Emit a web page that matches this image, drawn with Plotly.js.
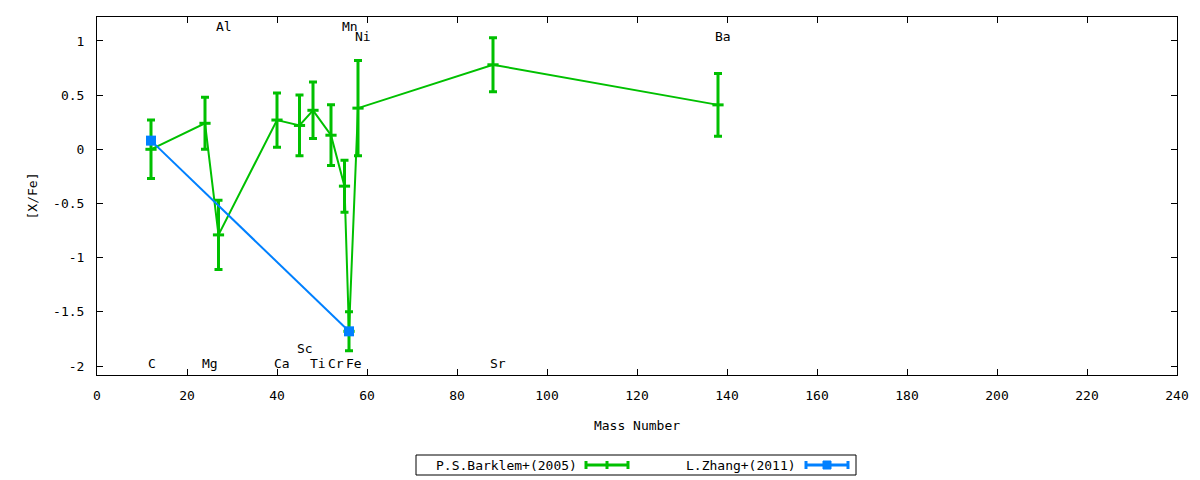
<!DOCTYPE html>
<html>
<head>
<meta charset="utf-8">
<script src="https://cdn.plot.ly/plotly-3.0.1.min.js"></script>
<style>html,body{margin:0;padding:0;background:#fff;}#chart{width:1200px;height:480px;}</style>
</head>
<body>
<div id="chart"></div>
<script>
// ---- data ----
const elements = ['C','Mg','Al','Ca','Sc','Ti','Cr','Mn','Fe','Ni','Sr','Ba'];
const massNumbers = [12,24,27,40,45,48,52,55,56,58,88,138];
const barklemValues = [0.00,0.24,-0.79,0.27,0.22,0.36,0.13,-0.34,-1.68,0.38,0.78,0.41];
const barklemErrors = [0.27,0.24,0.32,0.25,0.28,0.26,0.28,0.24,0.18,0.44,0.25,0.29];
const zhangMass = [12,56];
const zhangValues = [0.08,-1.68];
const seriesNames = ['P.S.Barklem+(2005)','L.Zhang+(2011)'];
const xTicks = [0,20,40,60,80,100,120,140,160,180,200,220,240];
const yTicks = [1,0.5,0,-0.5,-1,-1.5,-2];
const yTickLabels = ['1','0.5','0','-0.5','-1','-1.5','-2'];

const GREEN = '#00c000';
const BLUE = '#0080ff';
const FONT = 'DejaVu Sans Mono, monospace';

const traces = [
  {
    x: massNumbers, y: barklemValues, name: seriesNames[0], type: 'scatter', mode: 'lines+markers',
    line: {color: GREEN, width: 2},
    marker: {symbol: 'line-ew', size: 8, color: GREEN, line: {color: GREEN, width: 3}},
    error_y: {type: 'data', array: barklemErrors, visible: true, color: GREEN, thickness: 3, width: 4},
    showlegend: false, hoverinfo: 'x+y'
  },
  {
    x: zhangMass, y: zhangValues, name: seriesNames[1], type: 'scatter', mode: 'lines+markers',
    line: {color: BLUE, width: 2},
    marker: {symbol: 'square', size: 10, color: BLUE},
    showlegend: false, hoverinfo: 'x+y'
  }
];

// element labels (row placement rule in code)
function labelY(el) {
  if (el === 'Al' || el === 'Mn') return 1.135;
  if (el === 'Ni' || el === 'Ba') return 1.043;
  if (el === 'Sc') return -1.84;
  return -1.975;
}
const annotations = elements.map((el, i) => ({
  x: massNumbers[i], y: labelY(el), xref: 'x', yref: 'y', text: el,
  showarrow: false, xanchor: 'left', yanchor: 'middle', xshift: -5,
  font: {family: FONT, size: 13, color: '#000'}
}));

// custom gnuplot-style legend (paper coordinates)
const L = 97, W = 1080, B = 375, H = 358;
const px = v => (v - L) / W;
const py = v => (B - v) / H;
const legY = py(465);
annotations.push(
  {x: px(579), y: legY, xref: 'paper', yref: 'paper', text: seriesNames[0], showarrow: false,
   xanchor: 'right', yanchor: 'middle', font: {family: FONT, size: 13, color: '#000'}},
  {x: px(798), y: legY, xref: 'paper', yref: 'paper', text: seriesNames[1], showarrow: false,
   xanchor: 'right', yanchor: 'middle', font: {family: FONT, size: 13, color: '#000'}}
);
const capH = 4 / H;
const shapes = [
  {type: 'rect', xref: 'paper', yref: 'paper', x0: px(416), x1: px(856), y0: py(475), y1: py(455),
   line: {color: '#000', width: 1}, fillcolor: 'rgba(0,0,0,0)'},
  // green sample
  {type: 'line', xref: 'paper', yref: 'paper', x0: px(586), x1: px(628), y0: legY, y1: legY, line: {color: GREEN, width: 3}},
  {type: 'line', xref: 'paper', yref: 'paper', x0: px(586), x1: px(586), y0: legY - capH, y1: legY + capH, line: {color: GREEN, width: 3}},
  {type: 'line', xref: 'paper', yref: 'paper', x0: px(628), x1: px(628), y0: legY - capH, y1: legY + capH, line: {color: GREEN, width: 3}},
  {type: 'line', xref: 'paper', yref: 'paper', x0: px(607), x1: px(607), y0: legY - capH, y1: legY + capH, line: {color: GREEN, width: 3}},
  // blue sample
  {type: 'line', xref: 'paper', yref: 'paper', x0: px(806), x1: px(848), y0: legY, y1: legY, line: {color: BLUE, width: 3}},
  {type: 'line', xref: 'paper', yref: 'paper', x0: px(806), x1: px(806), y0: legY - capH, y1: legY + capH, line: {color: BLUE, width: 3}},
  {type: 'line', xref: 'paper', yref: 'paper', x0: px(848), x1: px(848), y0: legY - capH, y1: legY + capH, line: {color: BLUE, width: 3}},
  {type: 'rect', xref: 'paper', yref: 'paper', x0: px(823), x1: px(831), y0: legY - capH, y1: legY + capH,
   line: {color: BLUE, width: 1}, fillcolor: BLUE}
];

const layout = {
  width: 1200, height: 480,
  margin: {l: 97, r: 23, t: 17, b: 105},
  paper_bgcolor: '#fff', plot_bgcolor: '#fff',
  font: {family: FONT, size: 13, color: '#000'},
  showlegend: false,
  xaxis: {
    range: [0, 240], tickvals: xTicks, ticktext: xTicks.map(String),
    ticks: 'inside', ticklen: 6, tickcolor: '#000', tickwidth: 1,
    showline: true, linecolor: '#000', linewidth: 1, mirror: 'ticks',
    showgrid: false, zeroline: false, ticklabelstandoff: 8,
    title: {text: 'Mass Number', font: {family: FONT, size: 13}, standoff: 19}
  },
  yaxis: {
    range: [-2.083, 1.221], tickvals: yTicks, ticktext: yTickLabels,
    ticks: 'inside', ticklen: 6, tickcolor: '#000', tickwidth: 1,
    showline: true, linecolor: '#000', linewidth: 1, mirror: 'ticks',
    showgrid: false, zeroline: false, ticklabelstandoff: 9,
    title: {text: '[X/Fe]', font: {family: FONT, size: 13}, standoff: 12}
  },
  annotations: annotations,
  shapes: shapes
};

Plotly.newPlot('chart', traces, layout, {displayModeBar: false, staticPlot: true});
</script>
</body>
</html>
